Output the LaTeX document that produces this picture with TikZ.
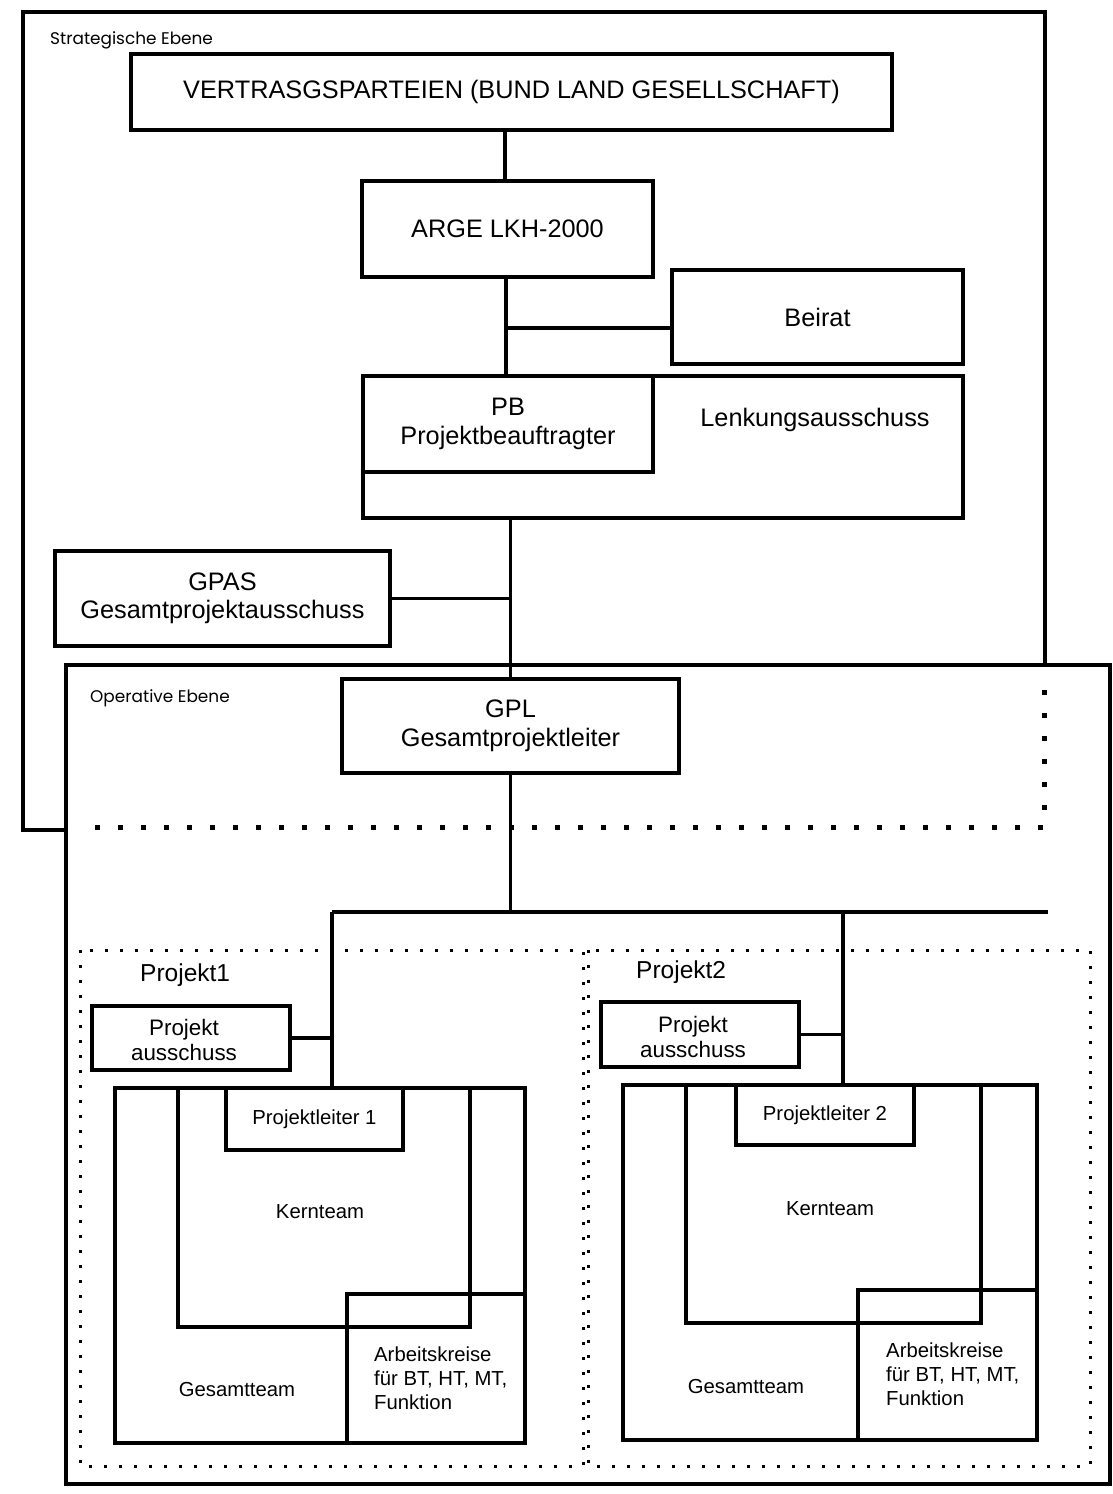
\documentclass[tikz,border=0pt]{standalone}
\usepackage{fontspec}
\setmainfont{Liberation Sans}
\newfontfamily\levelfont{Poppins}
\usetikzlibrary{calc}
\newcommand\fBig{\fontsize{25.3}{28.5}\selectfont}
\newcommand\fMid{\fontsize{24.5}{27}\selectfont}
\newcommand\fPa{\fontsize{22.4}{25}\selectfont}
\newcommand\fSmall{\fontsize{20.3}{24}\selectfont}
\newcommand\fLevel{\levelfont\fontsize{16.9}{19}\selectfont}
\tikzset{
  frame/.style={line width=3.5pt},
  box/.style={draw, line width=3.5pt, inner sep=0pt, align=center, font=\fBig},
  pabox/.style={box, font=\fPa},
  smallbox/.style={box, font=\fSmall},
  txt/.style={inner sep=0pt, align=center},
  conn/.style={line width=3.2pt},
  dotbig/.style={line width=5pt, dash pattern=on 5pt off 18pt},
  dotsmall/.style={line width=3pt, dash pattern=on 3pt off 12pt},
}
\begin{document}
\begin{tikzpicture}[x=1pt, y=-1pt]
\useasboundingbox (0,0) rectangle (1112,1494);
\fill[white] (0,0) rectangle (1112,1494);

% level frames
\draw[frame] (68,830) -- (23,830) -- (23,12) -- (1045,12) -- (1045,665);
\draw[frame] (66,665) rectangle (1110,1484);
\draw[dotbig] (1044,690) -- (1044,827) -- (83,827);
\draw[dotsmall] (80,950) rectangle (583,1466);
\draw[dotsmall] (588,950) rectangle (1090,1466);

\node[txt, anchor=west, font=\fLevel] (strat) at (50,40) {Strategische Ebene};
\node[txt, anchor=west, font=\fLevel] (oper) at (90,698) {Operative Ebene};

% strategic nodes
\node[box, minimum width=761pt, minimum height=76pt] (vp) at (511.5,92) {VERTRASGSPARTEIEN (BUND LAND GESELLSCHAFT)};
\node[box, minimum width=291pt, minimum height=96pt] (arge) at (507.5,229) {ARGE LKH-2000};
\node[box, minimum width=291pt, minimum height=94pt] (beirat) at (817.5,317) {Beirat};
\node[box, minimum width=600pt, minimum height=142pt] (lenk) at (663,447) {};
\node[txt, font=\fBig] (lenktxt) at (815,420) {Lenkungsausschuss};
\node[box, minimum width=290pt, minimum height=96pt] (pb) at (508,424) {PB\\Projektbeauftragter};
\node[box, minimum width=335pt, minimum height=95pt] (gpas) at (222.5,598.5) {GPAS\\Gesamtprojektausschuss};
\node[box, minimum width=337pt, minimum height=94pt] (gpl) at (510.5,726) {GPL\\Gesamtprojektleiter};

% projects
\node[txt, anchor=west, font=\fMid] (p1) at (140,975) {Projekt1};
\node[txt, anchor=west, font=\fMid] (p2) at (636,972) {Projekt2};
\node[pabox, minimum width=198pt, minimum height=64pt] (pa1) at (191,1038) {};
\node[txt, font=\fPa] (pa1txt) at (184,1040) {Projekt\\ausschuss};
\node[pabox, minimum width=198pt, minimum height=65pt] (pa2) at (700,1034.5) {};
\node[txt, font=\fPa] (pa2txt) at (693,1037) {Projekt\\ausschuss};

\node[smallbox, minimum width=410pt, minimum height=355pt] (gt1) at (320,1265.5) {};
\node[txt, font=\fSmall] (gt1txt) at (237,1389) {Gesamtteam};
\node[smallbox, minimum width=292pt, minimum height=239pt] (kt1) at (324,1207.5) {};
\node[txt, font=\fSmall] (kt1txt) at (320,1212) {Kernteam};
\node[smallbox, minimum width=177pt, minimum height=62pt] (pl1) at (314.5,1119) {Projektleiter 1};
\node[smallbox, minimum width=178pt, minimum height=149pt] (ak1) at (436,1368.5) {};
\node[txt, anchor=west, align=left, font=\fSmall] (ak1txt) at (374,1378) {Arbeitskreise\\für BT, HT, MT,\\Funktion};

\node[smallbox, minimum width=414pt, minimum height=355pt] (gt2) at (830,1262.5) {};
\node[txt, font=\fSmall] (gt2txt) at (746,1386) {Gesamtteam};
\node[smallbox, minimum width=295pt, minimum height=238pt] (kt2) at (833.5,1204) {};
\node[txt, font=\fSmall] (kt2txt) at (830,1209) {Kernteam};
\node[smallbox, minimum width=178pt, minimum height=60pt] (pl2) at (825,1115) {Projektleiter 2};
\node[smallbox, minimum width=179pt, minimum height=150pt] (ak2) at (947.5,1365) {};
\node[txt, anchor=west, align=left, font=\fSmall] (ak2txt) at (886,1374) {Arbeitskreise\\für BT, HT, MT,\\Funktion};

% connectors
\coordinate (busL) at (332,912);
\coordinate (bus2) at (843,912);
\coordinate (busR) at (1048,912);
\coordinate (beiratj) at (506,328);
\draw[conn] (arge.north -| 505,0) -- (505,0 |- vp.south);
\draw[conn] (beiratj |- arge.south) -- (beiratj |- pb.north);
\draw[conn] (beiratj) -- (beiratj -| beirat.west);
\draw[conn] (gpl.north) -- (gpl.north |- lenk.south);
\draw[conn] (gpas.east) -- (gpas.east -| gpl.north);
\draw[conn] (gpl.south) -- (gpl.south |- busL);
\draw[conn] (busL) -- (busR);
\draw[conn] (busL) -- (busL |- pl1.north);
\draw[conn] (bus2) -- (bus2 |- pl2.north);
\draw[conn] (pa1.east) -- (pa1.east -| busL);
\draw[conn] (pa2.east) -- (pa2.east -| bus2);
\end{tikzpicture}
\end{document}
